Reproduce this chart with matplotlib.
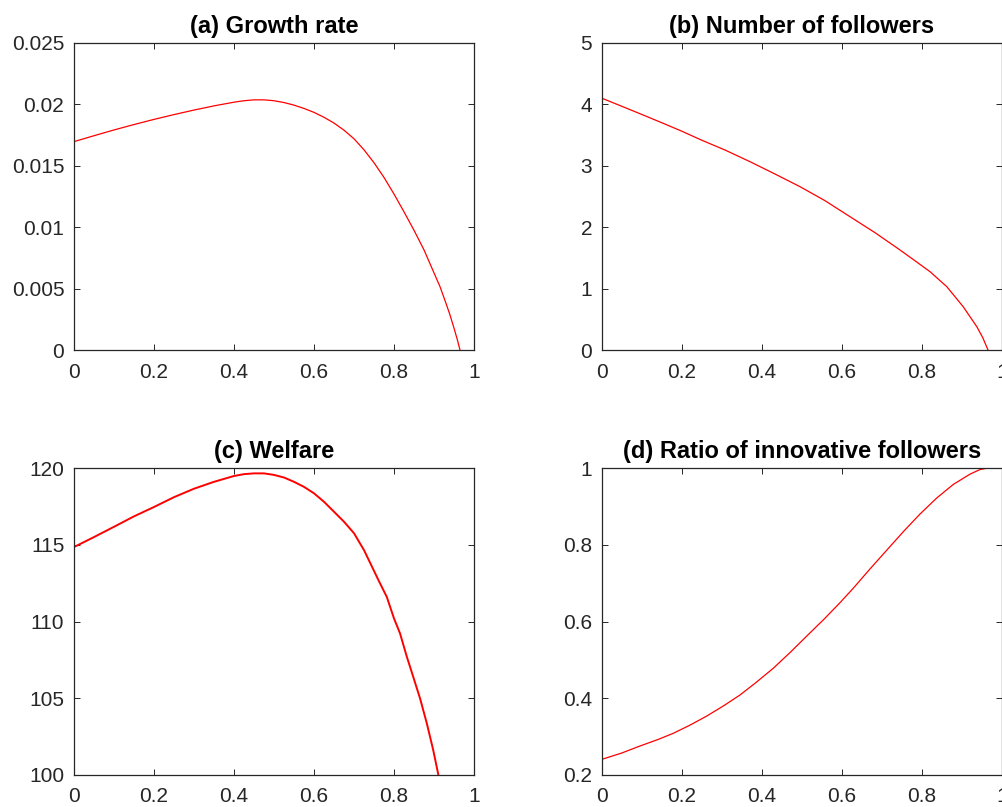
import matplotlib
matplotlib.use("Agg")
import matplotlib.pyplot as plt

plt.rcParams['font.family'] = ['Liberation Sans', 'DejaVu Sans']

# (a) Growth rate
x_growth = [0, 0.05, 0.1, 0.15, 0.2, 0.25, 0.3, 0.35, 0.4, 0.425, 0.45, 0.475, 0.5,
            0.525, 0.55, 0.575, 0.6, 0.625, 0.65, 0.675, 0.7, 0.725, 0.75, 0.775,
            0.8, 0.825, 0.85, 0.875, 0.9, 0.915, 0.93, 0.94, 0.95, 0.958, 0.965]
y_growth = [0.01697, 0.01745, 0.01792, 0.01836, 0.01878, 0.01917, 0.01954, 0.01988,
            0.02018, 0.02030, 0.02037, 0.02037, 0.02030, 0.02015, 0.01994, 0.01967,
            0.01935, 0.01895, 0.01848, 0.01790, 0.01720, 0.01630, 0.01525, 0.01405,
            0.01270, 0.01125, 0.00975, 0.00815, 0.00628, 0.00516, 0.00380, 0.00285,
            0.00178, 0.00088, 0.0]

# (b) Number of followers
x_followers = [0, 0.05, 0.1, 0.15, 0.2, 0.25, 0.3075, 0.37, 0.4325, 0.495, 0.5575,
               0.62, 0.6825, 0.745, 0.78, 0.82, 0.862, 0.903, 0.937, 0.952, 0.965]
y_followers = [4.10, 3.968, 3.835, 3.70, 3.562, 3.415, 3.257, 3.067, 2.866, 2.66,
               2.432, 2.171, 1.911, 1.629, 1.465, 1.276, 1.031, 0.705, 0.38, 0.20, 0.0]

# (c) Welfare
x_welfare = [0, 0.05, 0.1, 0.15, 0.2, 0.25, 0.3, 0.35, 0.4, 0.425, 0.45, 0.475, 0.5,
             0.525, 0.55, 0.575, 0.6, 0.625, 0.65, 0.675, 0.7, 0.725, 0.75, 0.761,
             0.782, 0.8, 0.815, 0.832, 0.848, 0.865, 0.882, 0.898, 0.911]
y_welfare = [114.85, 115.5, 116.17, 116.85, 117.46, 118.1, 118.65, 119.1, 119.48,
             119.6, 119.65, 119.65, 119.55, 119.38, 119.1, 118.77, 118.35, 117.8,
             117.15, 116.5, 115.75, 114.65, 113.3, 112.7, 111.6, 110.2, 109.23, 107.71,
             106.4, 105.0, 103.37, 101.63, 100.0]

# (d) Ratio of innovative followers
x_ratio = [0, 0.05, 0.095, 0.14, 0.178, 0.22, 0.262, 0.305, 0.345, 0.385, 0.428, 0.47,
           0.512, 0.555, 0.595, 0.628, 0.67, 0.712, 0.755, 0.795, 0.837, 0.878, 0.92,
           0.945, 0.965]
y_ratio = [0.2409, 0.2575, 0.2756, 0.2925, 0.3086, 0.330, 0.3537, 0.381, 0.4085,
           0.441, 0.478, 0.519, 0.5622, 0.606, 0.649, 0.6865, 0.737, 0.786, 0.836,
           0.880, 0.922, 0.957, 0.984, 0.996, 1.0]

titles = ['(a) Growth rate', '(b) Number of followers', '(c) Welfare',
          '(d) Ratio of innovative followers']
x_ticks = [0, 0.2, 0.4, 0.6, 0.8, 1]
x_tick_labels = ['0', '0.2', '0.4', '0.6', '0.8', '1']
y_ticks_a = [0, 0.005, 0.01, 0.015, 0.02, 0.025]
y_labels_a = ['0', '0.005', '0.01', '0.015', '0.02', '0.025']
y_ticks_b = [0, 1, 2, 3, 4, 5]
y_ticks_c = [100, 105, 110, 115, 120]
y_ticks_d = [0.2, 0.4, 0.6, 0.8, 1]
y_labels_d = ['0.2', '0.4', '0.6', '0.8', '1']

W, H = 1003, 807
fig = plt.figure(figsize=(W / 100, H / 100), dpi=100)

def mk(left, top, right, bottom):
    return fig.add_axes([left / W, 1 - bottom / H, (right - left) / W, (bottom - top) / H])

axa = mk(74, 43, 474, 350)
axb = mk(602, 43, 1002, 350)
axc = mk(74, 468, 474, 775)
axd = mk(602, 468, 1002, 775)

edge = '#262626'
data = [
    (axa, x_growth, y_growth, (0, 0.025), y_ticks_a, y_labels_a, 0.9),
    (axb, x_followers, y_followers, (0, 5), y_ticks_b, [str(v) for v in y_ticks_b], 0.9),
    (axc, x_welfare, y_welfare, (100, 120), y_ticks_c, [str(v) for v in y_ticks_c], 1.4),
    (axd, x_ratio, y_ratio, (0.2, 1), y_ticks_d, y_labels_d, 0.9),
]
for (ax, xs, ys, ylim, yt, yl, lw), title in zip(data, titles):
    ax.plot(xs, ys, color='red', linewidth=lw)
    ax.set_xlim(0, 1)
    ax.set_ylim(*ylim)
    ax.set_xticks(x_ticks)
    ax.set_xticklabels(x_tick_labels)
    ax.set_yticks(yt)
    ax.set_yticklabels(yl)
    ax.tick_params(direction='in', length=4, width=0.7, colors=edge, labelsize=15,
                   top=True, right=True, pad=7)
    ax.tick_params(axis='x', pad=9)
    for s in ax.spines.values():
        s.set_color(edge)
        s.set_linewidth(0.9)
    ax.set_title(title, fontsize=17, fontweight='bold', pad=7, color='black')

fig.savefig('out.png', dpi=100)
